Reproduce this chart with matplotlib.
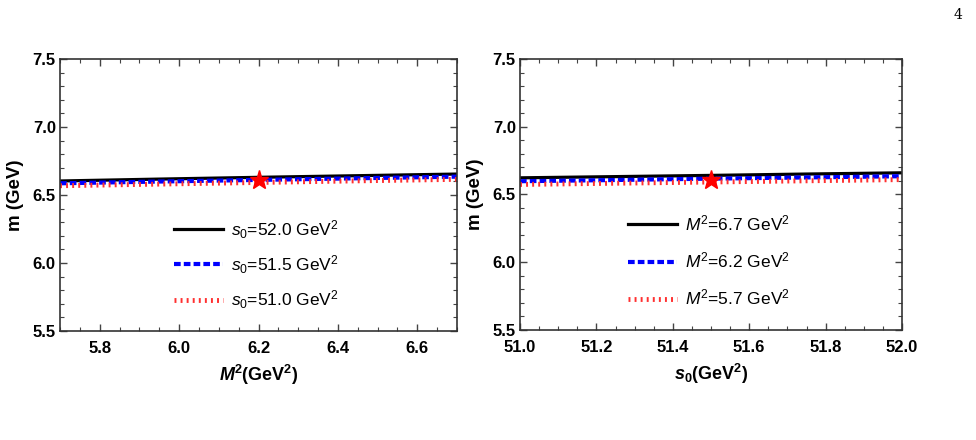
import matplotlib
matplotlib.use("Agg")
import matplotlib.pyplot as plt
from matplotlib.ticker import MultipleLocator
from matplotlib.lines import Line2D

plt.rcParams['font.family'] = ['Liberation Sans', 'DejaVu Sans']
plt.rcParams['mathtext.fontset'] = 'custom'
plt.rcParams['mathtext.rm'] = 'Liberation Sans'
plt.rcParams['mathtext.it'] = 'Liberation Sans:italic'
plt.rcParams['mathtext.bf'] = 'Liberation Sans:bold'
plt.rcParams['mathtext.bfit'] = 'Liberation Sans:bold:italic'

# Left panel: mass vs Borel parameter M^2 for three s0 values
M2 = [5.7, 5.95, 6.2, 6.45, 6.7]
m_s0_520 = [6.603, 6.617, 6.630, 6.642, 6.654]
m_s0_515 = [6.586, 6.599, 6.611, 6.623, 6.635]
m_s0_510 = [6.568, 6.580, 6.592, 6.604, 6.615]
left_labels = [r'$s_0$=52.0 GeV$^2$', r'$s_0$=51.5 GeV$^2$', r'$s_0$=51.0 GeV$^2$']
star_left = (6.2, 6.61)

# Right panel: mass vs threshold s0 for three M^2 values
s0 = [51.0, 51.25, 51.5, 51.75, 52.0]
m_M2_67 = [6.623, 6.632, 6.641, 6.651, 6.660]
m_M2_62 = [6.598, 6.607, 6.617, 6.626, 6.635]
m_M2_57 = [6.574, 6.583, 6.592, 6.601, 6.610]
right_labels = [r'$M^2$=6.7 GeV$^2$', r'$M^2$=6.2 GeV$^2$', r'$M^2$=5.7 GeV$^2$']
star_right = (51.5, 6.61)

W, H = 976, 440
fig = plt.figure(figsize=(W / 100, H / 100), dpi=100)
axL = fig.add_axes([60 / W, (H - 331) / H, 397 / W, 272 / H])
axR = fig.add_axes([520 / W, (H - 330) / H, 382 / W, 271 / H])

styles = [dict(color='black', lw=2.3, ls='-'),
          dict(color='blue', lw=3.0, ls=(0, (1.6, 0.75))),
          dict(color='#ff3030', lw=3.5, ls=(0, (0.4, 0.85)))]


def setup(ax, xlim, xmaj, xmin, xlabel):
    ax.set_xlim(*xlim)
    ax.set_ylim(5.5, 7.5)
    ax.xaxis.set_major_locator(MultipleLocator(xmaj))
    ax.xaxis.set_minor_locator(MultipleLocator(xmin))
    ax.yaxis.set_major_locator(MultipleLocator(0.5))
    ax.yaxis.set_minor_locator(MultipleLocator(0.1))
    ax.tick_params(which='both', direction='in', top=True, right=True, color='#444444')
    ax.tick_params(which='major', length=5, width=1, labelsize=12)
    ax.tick_params(axis='x', which='major', pad=7)
    ax.tick_params(axis='y', which='major', pad=3)
    ax.tick_params(which='minor', length=3, width=0.8)
    for sp in ax.spines.values():
        sp.set_linewidth(1.2)
        sp.set_color('#333333')
    ax.set_xlabel(xlabel, fontsize=13, fontweight='bold', labelpad=5)
    ax.set_ylabel('m (GeV)', fontsize=13.5, fontweight='bold', labelpad=6)


for y, st in zip([m_s0_520, m_s0_515, m_s0_510], styles):
    axL.plot(M2, y, **st)
axL.plot(*star_left, marker='*', color='red', markersize=14, zorder=5, ls='none')
setup(axL, (5.7, 6.7), 0.2, 0.05, r'$\mathbfit{M}^{\mathbf{2}}$(GeV$^{\mathbf{2}}$)')
axL.set_xticks([5.8, 6.0, 6.2, 6.4, 6.6])

for y, st in zip([m_M2_67, m_M2_62, m_M2_57], styles):
    axR.plot(s0, y, **st)
axR.plot(*star_right, marker='*', color='red', markersize=14, zorder=5, ls='none')
setup(axR, (51.0, 52.0), 0.2, 0.05, r'$\mathbfit{s}_{\mathbf{0}}$(GeV$^{\mathbf{2}}$)')

for ax, labels, anchor, lsp in [(axL, left_labels, (0.287, 0.415), 0.72),
                                (axR, right_labels, (0.283, 0.43), 1.0)]:
    handles = [Line2D([], [], **st) for st in styles]
    ax.legend(handles, labels, loc='upper left', bbox_to_anchor=anchor, frameon=False,
              fontsize=12.5, handlelength=2.8, labelspacing=lsp, handletextpad=0.5,
              borderaxespad=0, borderpad=0)

for ax in (axL, axR):
    for lab in ax.get_xticklabels() + ax.get_yticklabels():
        lab.set_fontweight('bold')

fig.text(958 / W, 1 - 15 / H, '4', fontsize=10, family='DejaVu Serif', ha='center', va='center')

fig.savefig('out.png', dpi=100)
